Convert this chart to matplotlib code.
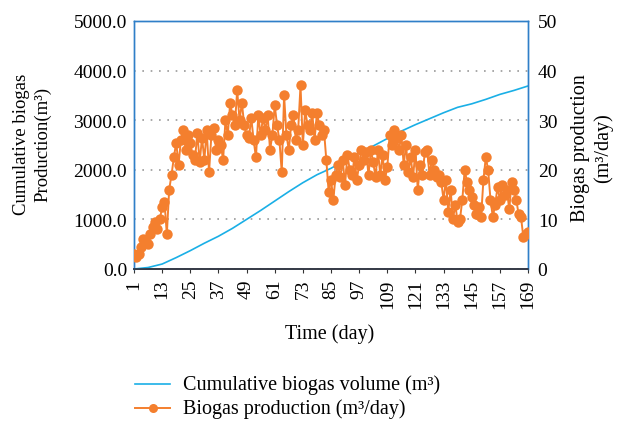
import matplotlib
matplotlib.use("Agg")
import matplotlib.pyplot as plt
import numpy as np
from matplotlib.lines import Line2D

plt.rcParams['font.family'] = ['Liberation Serif', 'DejaVu Serif']

# Daily biogas production (m3/day), days 1..169
production = [
    3, 2.5, 3.0, 4.5, 6, 5.5, 5, 7, 8.5, 9.5,
    8, 10, 12.5, 13.5, 7, 16, 19, 22.5, 25.5, 21,
    26, 28, 24, 27, 25.5, 23, 22, 27.5, 21.5, 26.5,
    22, 28, 19.5, 27, 28.5, 24, 26, 25, 22, 30,
    27, 33.5, 31, 29, 36, 30, 33.5, 29, 27, 26.5,
    30.5, 26, 22.5, 31, 27, 30.5, 28, 31, 24, 27,
    33, 29, 26, 19.5, 35, 27, 24, 29, 31, 26,
    28, 37, 25, 32, 29, 28, 31.5, 26, 31.5, 29,
    27, 28, 22, 15.5, 18, 14, 19, 21, 18.5, 22,
    17, 23, 20, 19, 22.5, 18, 21, 24, 22, 23.5,
    19, 24, 21.5, 18.5, 24, 19, 23, 18, 20.5, 27,
    25, 28, 26.5, 24, 27, 21, 25, 19.5, 22.5, 18.5,
    24, 16, 21, 19, 23.5, 24, 19, 22, 20, 18.5,
    19, 17.5, 14, 18, 11.5, 16, 10, 13, 9.5, 10,
    14, 20, 17.5, 16, 14.5, 13, 11, 12.5, 10.5, 18,
    22.5, 20, 14, 10.5, 13, 16.5, 14, 17, 15, 16,
    12, 17.5, 16, 14, 11, 10.5, 6.5, 7, 7.5,
]
days = list(range(1, len(production) + 1))

# Cumulative biogas volume (m3), read at every 6th day
cum_days = [1, 7, 13, 19, 25, 31, 37, 43, 49, 55, 61, 67, 73, 79, 85,
            91, 97, 103, 109, 115, 121, 127, 133, 139, 145, 151, 157, 163, 169]
cumulative = [0, 30, 100, 230, 370, 520, 660, 820, 1000, 1180, 1370, 1560,
              1740, 1900, 2030, 2190, 2340, 2480, 2630, 2780, 2910, 3030,
              3150, 3260, 3330, 3420, 3520, 3600, 3690]

xticks = list(range(1, 170, 12))

W, H = 619, 427
fig = plt.figure(figsize=(W / 100, H / 100), dpi=100)
ax = fig.add_axes([134 / W, 1 - 270 / H, (528 - 134) / W, (270 - 22) / H])

blue_line = '#1AAFE6'
orange = '#F47F2E'
spine_blue = '#2F7FC8'

ax.plot(cum_days, cumulative, color=blue_line, lw=1.2, zorder=3)
ax.set_xlim(1, 169)
ax.set_ylim(0, 5000)
ax.set_yticks(np.arange(0, 5001, 1000))
ax.set_yticklabels([f"{v:.1f}" for v in np.arange(0, 5001, 1000)])
ax.set_xticks(xticks)
ax.set_xticklabels([str(t) for t in xticks], rotation=90)
ax.grid(axis='y', linestyle=(0, (1, 4)), color='#999999', lw=1.2)
ax.set_axisbelow(True)
ax.tick_params(axis='y', length=0, labelsize=14, pad=5)
ax.tick_params(axis='x', length=3, labelsize=14, pad=4, color='#333333')

ax2 = ax.twinx()
ax2.plot(days, production, color=orange, lw=1.4, marker='o', ms=7.5,
         markeredgewidth=0, zorder=4)
ax2.set_ylim(0, 50)
ax2.set_yticks(np.arange(0, 51, 10))
ax2.tick_params(axis='y', length=0, labelsize=14, pad=7)

for a in (ax, ax2):
    for s in ('left', 'right', 'top'):
        a.spines[s].set_color(spine_blue)
        a.spines[s].set_linewidth(1.0)
    a.spines['bottom'].set_color('#333845')
    a.spines['bottom'].set_linewidth(1.2)

fig.text(22 / W, 1 - 144 / H, 'Cumulative biogas', rotation=90,
         ha='center', va='center', fontsize=13.5)
fig.text(43 / W, 1 - 144 / H, 'Production(m³)', rotation=90,
         ha='center', va='center', fontsize=13.5)
fig.text(580 / W, 1 - 148 / H, 'Biogas production', rotation=90,
         ha='center', va='center', fontsize=14.5)
fig.text(603 / W, 1 - 148 / H, '(m³/day)', rotation=90,
         ha='center', va='center', fontsize=14.5)

fig.text(330 / W, 1 - 334 / H, 'Time (day)', ha='center', va='center',
         fontsize=14.5)

# Legend (drawn manually in figure pixel coordinates)
labels = ['Cumulative biogas volume (m³)', 'Biogas production (m³/day)']
rows_y = [385, 409]
fig.add_artist(Line2D([135 / W, 170 / W], [1 - rows_y[0] / H] * 2,
                      color=blue_line, lw=1.2, transform=fig.transFigure))
fig.add_artist(Line2D([135 / W, 170 / W], [1 - rows_y[1] / H] * 2,
                      color=orange, lw=1.4, transform=fig.transFigure))
fig.add_artist(Line2D([152.5 / W], [1 - rows_y[1] / H], color=orange,
                      marker='o', ms=6.5, markeredgewidth=0,
                      transform=fig.transFigure))
for lab, yy in zip(labels, rows_y):
    fig.text(183 / W, 1 - yy / H, lab, ha='left', va='center',
             fontsize=14.5)

fig.savefig('out.png', dpi=100)
